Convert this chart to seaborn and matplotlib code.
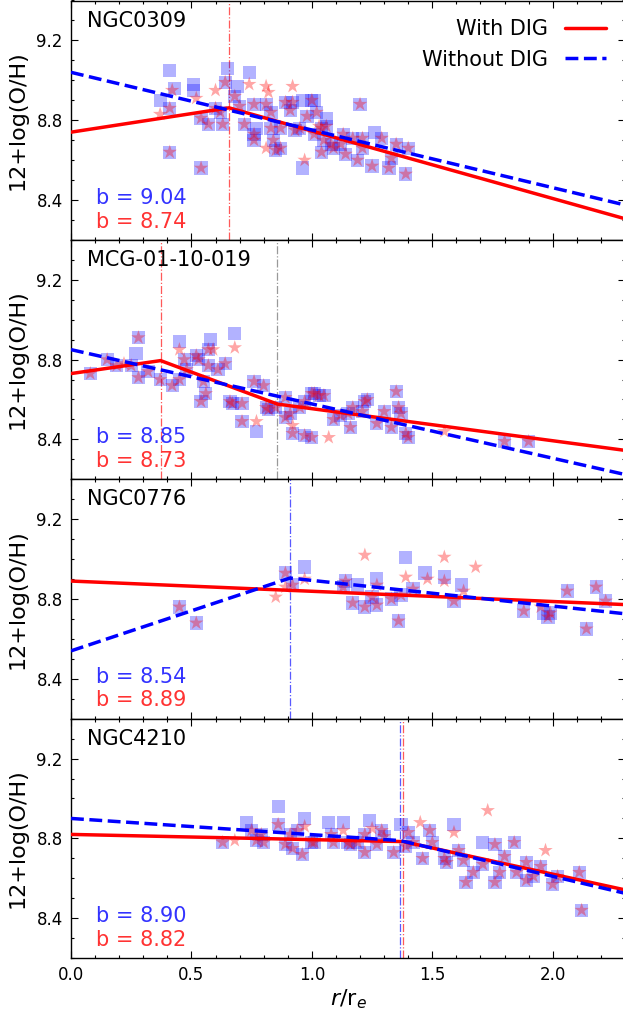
import numpy as np
import pandas as pd
import matplotlib
matplotlib.use("Agg")
import matplotlib.pyplot as plt
from matplotlib.ticker import MultipleLocator
import seaborn as sns

sns.set_style("ticks")
plt.rcParams['font.family'] = ['DejaVu Sans']
plt.rcParams.update({"text.color": "black", "axes.labelcolor": "black",
                     "axes.edgecolor": "black", "xtick.color": "black",
                     "ytick.color": "black"})

galaxies = ["NGC0309", "MCG-01-10-019", "NGC0776", "NGC4210"]
b_without = ["9.04", "8.85", "8.54", "8.90"]
b_with = ["8.74", "8.73", "8.89", "8.82"]

# ---- panel 1 : NGC0309
p1_r_both = [0.41, 0.54, 0.57, 0.60, 0.64, 0.63, 0.68, 0.72, 0.76, 0.76,
             0.81, 0.83, 0.84, 0.85, 0.87, 0.87, 0.89, 0.91, 0.92, 0.93,
             0.98, 1.00, 1.02, 1.04, 1.05, 1.04, 1.06, 1.08, 1.09, 1.12,
             1.14, 1.17, 1.19, 1.20, 1.21, 1.21, 1.25, 1.29, 1.32, 1.33,
             1.35, 1.39, 1.40, 0.41, 0.54, 0.76, 0.83, 0.95, 1.01, 1.13,
             0.62, 0.70]
p1_oh_both = [8.86, 8.81, 8.78, 8.86, 8.99, 8.78, 8.92, 8.78, 8.88, 8.70,
              8.88, 8.84, 8.70, 8.65, 8.76, 8.66, 8.89, 8.85, 8.89, 8.75,
              8.82, 8.90, 8.84, 8.76, 8.70, 8.64, 8.77, 8.68, 8.66, 8.68,
              8.63, 8.71, 8.60, 8.88, 8.71, 8.66, 8.57, 8.71, 8.56, 8.61,
              8.68, 8.53, 8.66, 8.64, 8.56, 8.73, 8.76, 8.76, 8.73, 8.73,
              8.84, 8.87]
p1_r_sq = [0.41, 0.43, 0.37, 0.51, 0.51, 0.65, 0.69, 0.74, 0.77, 0.96, 0.96, 1.01, 1.06, 1.26]
p1_oh_sq = [9.05, 8.96, 8.90, 8.98, 8.95, 9.06, 8.97, 9.04, 8.76, 8.90, 8.56, 8.90, 8.81, 8.74]
p1_r_st = [0.42, 0.37, 0.52, 0.60, 0.74, 0.81, 0.81, 0.82, 0.92, 0.97, 1.03]
p1_oh_st = [8.95, 8.83, 8.91, 8.95, 8.98, 8.97, 8.66, 8.94, 8.97, 8.60, 8.77]

# ---- panel 2 : MCG-01-10-019
p2_r_both = [0.08, 0.15, 0.19, 0.28, 0.28, 0.25, 0.32, 0.37, 0.42, 0.45,
             0.47, 0.48, 0.52, 0.53, 0.55, 0.56, 0.54, 0.57, 0.57, 0.61,
             0.64, 0.66, 0.67, 0.71, 0.71, 0.76, 0.80, 0.81, 0.82, 0.85,
             0.89, 0.89, 0.91, 0.92, 0.95, 0.97, 0.97, 1.00, 1.01, 1.00,
             1.03, 1.05, 1.09, 1.12, 1.15, 1.16, 1.17, 1.21, 1.22, 1.23,
             1.27, 1.30, 1.33, 1.35, 1.36, 1.37, 1.39, 1.40, 1.80, 1.90]
p2_oh_both = [8.73, 8.80, 8.77, 8.91, 8.71, 8.77, 8.74, 8.70, 8.67, 8.70,
              8.80, 8.75, 8.82, 8.80, 8.69, 8.63, 8.59, 8.85, 8.77, 8.75,
              8.78, 8.59, 8.58, 8.58, 8.49, 8.69, 8.67, 8.56, 8.55, 8.56,
              8.61, 8.51, 8.53, 8.43, 8.56, 8.59, 8.42, 8.63, 8.63, 8.41,
              8.62, 8.62, 8.50, 8.52, 8.53, 8.46, 8.56, 8.54, 8.59, 8.60,
              8.48, 8.54, 8.46, 8.64, 8.56, 8.53, 8.43, 8.41, 8.39, 8.39]
p2_r_sq = [0.27, 0.45, 0.58, 0.68, 0.77]
p2_oh_sq = [8.83, 8.89, 8.90, 8.93, 8.44]
p2_r_st = [0.22, 0.45, 0.59, 0.68, 0.77, 0.92, 1.07, 1.55]
p2_oh_st = [8.78, 8.85, 8.85, 8.86, 8.49, 8.47, 8.41, 8.44]

# ---- panel 3 : NGC0776
p3_r_both = [0.45, 0.52, 0.89, 0.92, 1.14, 1.13, 1.17, 1.22, 1.25, 1.27,
             1.33, 1.36, 1.37, 1.42, 1.59, 1.88, 1.98, 1.99, 2.06, 2.14,
             2.18, 2.22]
p3_oh_both = [8.76, 8.68, 8.93, 8.87, 8.89, 8.86, 8.78, 8.76, 8.81, 8.77,
              8.80, 8.69, 8.82, 8.85, 8.79, 8.74, 8.71, 8.73, 8.84, 8.65,
              8.86, 8.79]
p3_r_sq = [0.97, 1.19, 1.27, 1.39, 1.47, 1.55, 1.62, 1.96]
p3_oh_sq = [8.96, 8.87, 8.90, 9.01, 8.93, 8.91, 8.87, 8.73]
p3_r_st = [0.85, 0.89, 0.97, 1.22, 1.27, 1.39, 1.48, 1.55, 1.55, 1.63, 1.68, 1.95]
p3_oh_st = [8.81, 8.86, 8.90, 9.02, 8.87, 8.91, 8.90, 9.01, 8.89, 8.84, 8.96, 8.76]

# ---- panel 4 : NGC4210
p4_r_both = [0.63, 0.75, 0.77, 0.79, 0.80, 0.86, 0.89, 0.91, 0.92, 0.94,
             0.96, 1.00, 1.01, 1.08, 1.09, 1.15, 1.16, 1.19, 1.22, 1.22,
             1.27, 1.29, 1.30, 1.34, 1.39, 1.40, 1.42, 1.46, 1.49, 1.50,
             1.55, 1.56, 1.61, 1.63, 1.64, 1.67, 1.71, 1.76, 1.76, 1.78,
             1.80, 1.84, 1.85, 1.89, 1.89, 1.92, 1.95, 2.00, 2.02, 2.11,
             2.12]
p4_oh_both = [8.78, 8.84, 8.79, 8.82, 8.78, 8.87, 8.77, 8.82, 8.75, 8.84,
              8.72, 8.78, 8.78, 8.82, 8.78, 8.78, 8.77, 8.78, 8.73, 8.82,
              8.77, 8.84, 8.81, 8.73, 8.76, 8.83, 8.78, 8.70, 8.84, 8.78,
              8.70, 8.68, 8.74, 8.69, 8.58, 8.63, 8.67, 8.77, 8.58, 8.63,
              8.71, 8.78, 8.63, 8.68, 8.59, 8.61, 8.66, 8.57, 8.61, 8.63,
              8.44]
p4_r_sq = [0.73, 0.86, 0.97, 1.07, 1.13, 1.24, 1.37, 1.59, 1.71]
p4_oh_sq = [8.88, 8.96, 8.90, 8.88, 8.88, 8.89, 8.87, 8.87, 8.78]
p4_r_st = [0.68, 0.97, 1.13, 1.25, 1.45, 1.59, 1.73, 1.97]
p4_oh_st = [8.79, 8.86, 8.84, 8.85, 8.88, 8.83, 8.94, 8.74]

# ---- broken-line fits (knots)
fit_with_r = [[0, 0.656, 2.3], [0, 0.372, 0.857, 2.3], [0, 2.3], [0, 1.378, 2.3]]
fit_with_oh = [[8.74, 8.862, 8.306], [8.73, 8.795, 8.577, 8.345], [8.89, 8.772], [8.82, 8.784, 8.542]]
fit_wo_r = [[0, 2.3], [0, 2.3], [0, 0.909, 2.3], [0, 1.367, 2.3]]
fit_wo_oh = [[9.04, 8.375], [8.85, 8.224], [8.54, 8.905, 8.726], [8.90, 8.789, 8.525]]
break_r = [[0.656], [0.372, 0.857], [0.909], [1.367, 1.378]]
break_col = [["#ff3030"], ["#ff3030", "gray"], ["#3030ff"], ["#3030ff", "#ff3030"]]

panels = [
    (p1_r_both, p1_oh_both, p1_r_sq, p1_oh_sq, p1_r_st, p1_oh_st),
    (p2_r_both, p2_oh_both, p2_r_sq, p2_oh_sq, p2_r_st, p2_oh_st),
    (p3_r_both, p3_oh_both, p3_r_sq, p3_oh_sq, p3_r_st, p3_oh_st),
    (p4_r_both, p4_oh_both, p4_r_sq, p4_oh_sq, p4_r_st, p4_oh_st),
]

W, H = 623, 1014
fig = plt.figure(figsize=(W / 100, H / 100), dpi=100)
left = 71 / W
width = 554 / W
ph = 239.4 / H
top = 1 - 0.5 / H

for i, (rb, ob, rs, os_, rt, ot) in enumerate(panels):
    ax = fig.add_axes([left, top - (i + 1) * ph, width, ph])
    sq = pd.DataFrame({"r": rb + rs, "oh": ob + os_})
    st = pd.DataFrame({"r": rb + rt, "oh": ob + ot})
    sns.scatterplot(data=sq, x="r", y="oh", marker="s", s=90, color="blue",
                    alpha=0.3, edgecolor="none", linewidth=0, ax=ax, zorder=2)
    sns.scatterplot(data=st, x="r", y="oh", marker="*", s=120, color="red",
                    alpha=0.35, edgecolor="none", linewidth=0, ax=ax, zorder=3)
    for xb, c in zip(break_r[i], break_col[i]):
        ax.axvline(xb, color=c, ls="-.", lw=0.9, alpha=0.8, zorder=1)
    fw = pd.DataFrame({"r": fit_with_r[i], "oh": fit_with_oh[i]})
    fo = pd.DataFrame({"r": fit_wo_r[i], "oh": fit_wo_oh[i]})
    sns.lineplot(data=fw, x="r", y="oh", color="red", lw=2.5, estimator=None,
                 sort=False, ax=ax, zorder=4)
    h_with = ax.lines[-1]
    sns.lineplot(data=fo, x="r", y="oh", color="blue", lw=2.5, estimator=None,
                 sort=False, ax=ax, zorder=5)
    h_wo = ax.lines[-1]
    h_wo.set_linestyle("--")

    ax.set_xlim(0, 2.3)
    ax.set_ylim(8.2, 9.4)
    ax.xaxis.set_major_locator(MultipleLocator(0.5))
    ax.xaxis.set_minor_locator(MultipleLocator(0.1))
    ax.yaxis.set_major_locator(MultipleLocator(0.4))
    ax.yaxis.set_minor_locator(MultipleLocator(0.1))
    ax.tick_params(which="both", direction="in", top=True, right=True, width=0.8)
    ax.tick_params(which="major", length=5, labelsize=12, pad=6)
    ax.tick_params(which="minor", length=2.5)
    for s in ax.spines.values():
        s.set_linewidth(1.0)
    ax.set_ylabel("12+log(O/H)", fontsize=16, labelpad=6)
    if i < 3:
        ax.tick_params(labelbottom=False)
        ax.set_xlabel("")
    else:
        ax.set_xlabel(r"$r$/r$_{e}$", fontsize=16, labelpad=2)

    ax.text(0.028, 0.891, galaxies[i], transform=ax.transAxes, fontsize=15,
            va="baseline", ha="left")
    ax.text(0.045, 0.15, "b = " + b_without[i], transform=ax.transAxes,
            fontsize=15, color="blue", alpha=0.8, va="baseline")
    ax.text(0.045, 0.051, "b = " + b_with[i], transform=ax.transAxes,
            fontsize=15, color="red", alpha=0.8, va="baseline")
    if i == 0:
        ax.legend(handles=[h_with, h_wo], labels=["With DIG", "Without DIG"],
                  loc="upper right", frameon=False, fontsize=15, markerfirst=False)

fig.savefig("out.png", dpi=100)
